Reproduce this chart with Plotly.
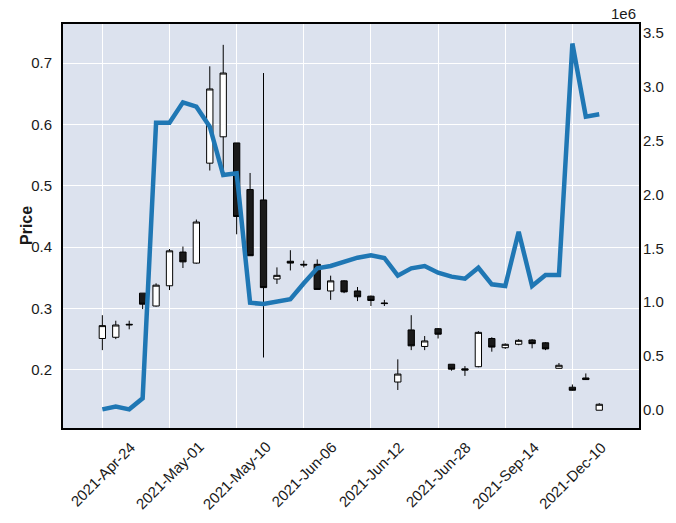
import plotly.graph_objects as go

# ---- data ----
idx = list(range(38))
opens  = [0.251,0.253,0.273,0.325,0.304,0.337,0.392,0.374,0.537,0.580,
          0.570,0.494,0.477,0.348,0.377,0.372,0.372,0.3285,0.345,0.3285,
          0.320,0.309,0.180,0.265,0.238,0.267,0.209,0.2015,0.205,0.251,
          0.236,0.2416,0.2486,0.244,0.2024,0.1715,0.1866,0.134]
highs  = [0.289,0.280,0.280,0.325,0.341,0.397,0.401,0.445,0.695,0.730,
          0.570,0.521,0.684,0.367,0.395,0.378,0.380,0.3535,0.346,0.335,
          0.321,0.314,0.217,0.289,0.255,0.268,0.209,0.206,0.263,0.253,
          0.243,0.250,0.250,0.245,0.211,0.176,0.194,0.1455]
lows   = [0.232,0.250,0.266,0.299,0.303,0.330,0.366,0.373,0.525,0.521,
          0.421,0.386,0.220,0.340,0.362,0.367,0.331,0.314,0.325,0.312,
          0.304,0.304,0.167,0.232,0.232,0.251,0.1985,0.190,0.204,0.2295,
          0.234,0.240,0.235,0.232,0.202,0.166,0.1838,0.134]
closes = [0.272,0.273,0.274,0.307,0.338,0.394,0.376,0.441,0.658,0.684,
          0.450,0.386,0.334,0.354,0.374,0.371,0.331,0.345,0.327,0.319,
          0.313,0.308,0.193,0.239,0.247,0.258,0.201,0.1995,0.261,0.237,
          0.2415,0.248,0.2426,0.234,0.2073,0.1666,0.184,0.1437]
volumes = [0.006e6,0.031e6,0.006e6,0.108e6,2.665e6,2.665e6,2.854e6,2.814e6,2.628e6,2.180e6,
           2.196e6,0.995e6,0.983e6,1.005e6,1.027e6,1.175e6,1.314e6,1.336e6,1.370e6,1.413e6,
           1.435e6,1.410e6,1.246e6,1.314e6,1.336e6,1.274e6,1.237e6,1.218e6,1.320e6,1.166e6,
           1.150e6,1.654e6,1.150e6,1.252e6,1.252e6,3.400e6,2.721e6,2.743e6]
tick_pos = [0, 5, 10, 15, 20, 25, 30, 35]
tick_labels = ["2021-Apr-24", "2021-May-01", "2021-May-10", "2021-Jun-06",
               "2021-Jun-12", "2021-Jun-28", "2021-Sep-14", "2021-Dec-10"]
price_ticks = [0.2, 0.3, 0.4, 0.5, 0.6, 0.7]
vol_ticks = [0, 0.5e6, 1.0e6, 1.5e6, 2.0e6, 2.5e6, 3.0e6, 3.5e6]

FONT = "Liberation Sans, Arial, sans-serif"
TXT = "#1a1a1a"
BG = "#dce2ee"

fig = go.Figure()
fig.add_trace(go.Candlestick(
    x=idx, open=opens, high=highs, low=lows, close=closes,
    increasing=dict(fillcolor="white", line=dict(color="black", width=1)),
    decreasing=dict(fillcolor="#1a1a1a", line=dict(color="black", width=1)),
    whiskerwidth=0, showlegend=False, yaxis="y"))
fig.add_trace(go.Scatter(
    x=idx, y=volumes, mode="lines", line=dict(color="#1f77b4", width=4.5),
    yaxis="y2", showlegend=False))

fig.update_layout(
    width=676, height=523,
    margin=dict(l=63, r=37, t=24, b=95),
    paper_bgcolor="white", plot_bgcolor=BG,
    font=dict(family=FONT, size=15, color=TXT),
    boxgap=0.33,
    xaxis=dict(range=[-2.93, 39.96], tickvals=tick_pos, ticktext=[""]*len(tick_pos),
               showgrid=True, gridcolor="white", gridwidth=1,
               showline=True, mirror=True, linecolor="black", linewidth=2,
               zeroline=False, rangeslider=dict(visible=False), ticks=""),
    yaxis=dict(range=[0.105, 0.764], tickvals=price_ticks,
               ticktext=[f"{v:.1f}" for v in price_ticks],
               showgrid=True, gridcolor="white", gridwidth=1,
               showline=True, mirror=True, linecolor="black", linewidth=2,
               zeroline=False, ticks="", ticklabelstandoff=6),
    yaxis2=dict(overlaying="y", side="right", range=[-0.167e6, 3.581e6],
                tickvals=vol_ticks, ticktext=[f"{v/1e6:.1f}" for v in vol_ticks],
                showgrid=False, zeroline=False, showline=False, ticks="",
                ticklabelstandoff=3),
)

for p, lab in zip(tick_pos, tick_labels):
    fig.add_annotation(x=p, y=0, xref="x", yref="paper", text=lab,
                       textangle=-45, showarrow=False, xanchor="center",
                       yanchor="top", yshift=-8,
                       font=dict(family=FONT, size=15, color=TXT))

fig.add_annotation(x=0, y=0.5, xref="paper", yref="paper", text="<b>Price</b>",
                   textangle=-90, showarrow=False, xanchor="center", yanchor="middle",
                   xshift=-37, font=dict(family=FONT, size=16, color=TXT))
fig.add_annotation(x=1, y=1, xref="paper", yref="paper", text="1e6",
                   showarrow=False, xanchor="right", yanchor="bottom", yshift=0,
                   xshift=-1, font=dict(family=FONT, size=15, color=TXT))

fig.write_html("out.html")
